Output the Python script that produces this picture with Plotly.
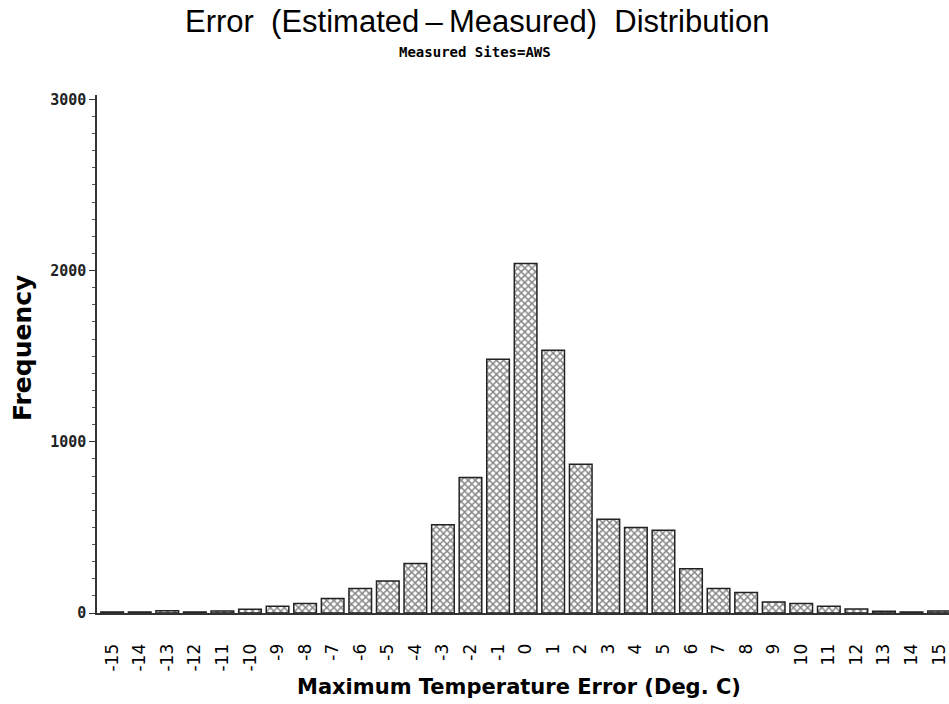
import plotly.graph_objects as go

errors = list(range(-15, 16))
frequency = [6, 6, 13, 6, 12, 22, 39, 55, 84, 143, 187, 289, 516, 791, 1482,
             2041, 1534, 869, 547, 499, 483, 259, 143, 120, 64, 55, 39, 23, 10, 6, 12]
tick_labels = [str(v) for v in errors]
y_ticks = [0, 1000, 2000, 3000]

fig = go.Figure()
fig.add_trace(go.Bar(
    x=errors, y=frequency, width=0.82,
    marker=dict(color="white",
                line=dict(color="#222", width=1.5),
                pattern=dict(shape="x", size=5, solidity=0.5,
                             fgcolor="#111", bgcolor="white")),
    showlegend=False,
))

fig.update_layout(
    width=949, height=704,
    margin=dict(l=97, r=0, t=95, b=91),
    paper_bgcolor="white", plot_bgcolor="white",
    xaxis=dict(range=[-15.55, 15.36], tickvals=errors, ticktext=tick_labels,
               tickangle=-90, ticks="", showline=True, linecolor="#333", linewidth=2,
               showgrid=False, zeroline=False, ticklabelstandoff=22,
               tickfont=dict(family="DejaVu Sans", size=17, color="black")),
    yaxis=dict(range=[0, 3025], tickvals=y_ticks, ticks="outside", ticklen=6,
               tickcolor="#333", showline=True, linecolor="#333", linewidth=1.5,
               showgrid=False, zeroline=False,
               minor=dict(dtick=100, ticks="outside", ticklen=3, tickcolor="#555"),
               tickfont=dict(family="DejaVu Sans Mono", size=15, color="#222",
                             weight="bold")),
    annotations=[
        dict(text="Error\u00a0\u00a0(Estimated\u2009\u2013\u2009Measured)\u00a0\u00a0Distribution",
             xref="paper", yref="paper", x=(477 - 97) / 852, y=1 + (95 - 22) / 518,
             xanchor="center", yanchor="middle", showarrow=False,
             font=dict(family="Liberation Sans", size=31, color="black")),
        dict(text="Measured Sites=AWS",
             xref="paper", yref="paper", x=(474.5 - 97) / 852, y=1 + (95 - 52) / 518,
             xanchor="center", yanchor="middle", showarrow=False,
             font=dict(family="DejaVu Sans Mono", size=14, color="black", weight="bold")),
        dict(text="Frequency", textangle=-90,
             xref="paper", yref="paper", x=(22 - 97) / 852, y=(613 - 348) / 518,
             xanchor="center", yanchor="middle", showarrow=False,
             font=dict(family="DejaVu Sans", size=25, color="black", weight="bold")),
        dict(text="Maximum Temperature Error (Deg. C)",
             xref="paper", yref="paper", x=(519 - 97) / 852, y=(613 - 687) / 518,
             xanchor="center", yanchor="middle", showarrow=False,
             font=dict(family="DejaVu Sans", size=21, color="black", weight="bold")),
    ],
)

fig.write_html("out.html")
